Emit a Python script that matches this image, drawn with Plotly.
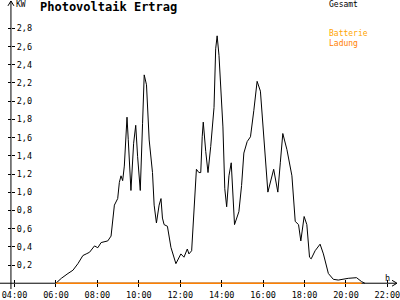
import plotly.graph_objects as go

# ---- data ----
hours = [6.0, 6.26, 6.58, 6.82, 7.06, 7.30, 7.46, 7.62, 7.86, 8.02, 8.18, 8.50, 8.66, 8.82, 8.98,
         9.06, 9.14, 9.22, 9.30, 9.43, 9.49, 9.62, 9.75, 9.85, 9.94, 10.07, 10.18, 10.26, 10.37,
         10.50, 10.66, 10.74, 10.85, 10.98, 11.07, 11.14, 11.22, 11.38, 11.55, 11.79, 12.03, 12.18,
         12.34, 12.42, 12.55, 12.66, 12.78, 12.90, 12.99, 13.06, 13.11, 13.23, 13.34, 13.47, 13.63,
         13.71, 13.78, 13.87, 14.06, 14.15, 14.24, 14.35, 14.46, 14.62, 14.83, 14.96, 15.07, 15.23,
         15.39, 15.55, 15.71, 15.87, 16.03, 16.23, 16.51, 16.71, 16.83, 16.95, 17.15, 17.39, 17.55,
         17.71, 17.82, 17.98, 18.11, 18.24, 18.32, 18.51, 18.75, 18.91, 19.15, 19.39, 19.63, 20.11,
         20.51, 20.75, 20.91]
total_kw = [0.0, 0.054, 0.107, 0.143, 0.215, 0.304, 0.322, 0.34, 0.41, 0.39, 0.447, 0.465, 0.518,
            0.858, 0.93, 1.108, 1.18, 1.127, 1.287, 1.824, 1.577, 1.019, 1.538, 1.735, 1.395, 1.019,
            1.752, 2.289, 2.18, 1.574, 1.216, 0.858, 0.662, 0.858, 0.93, 0.716, 0.644, 0.626, 0.394,
            0.215, 0.322, 0.286, 0.376, 0.322, 0.357, 0.751, 1.252, 1.216, 1.216, 1.609, 1.77, 1.449,
            1.216, 1.502, 1.931, 2.575, 2.718, 2.503, 1.717, 1.038, 0.84, 1.18, 1.323, 0.644, 0.786,
            1.073, 1.43, 1.556, 1.609, 1.896, 2.218, 2.11, 1.645, 1.001, 1.252, 1.001, 1.323, 1.645,
            1.467, 1.18, 0.679, 0.644, 0.465, 0.733, 0.644, 0.286, 0.268, 0.357, 0.429, 0.322, 0.107,
            0.043, 0.035, 0.054, 0.061, 0.018, 0.0]
battery_hours = [6.0, 20.75]
battery_kw = [0.0, 0.0]
y_ticks = [0.2, 0.4, 0.6, 0.8, 1.0, 1.2, 1.4, 1.6, 1.8, 2.0, 2.2, 2.4, 2.6, 2.8]
x_ticks = [4, 6, 8, 10, 12, 14, 16, 18, 20, 22]
x_labels = ["04:00", "06:00", "08:00", "10:00", "12:00", "14:00", "16:00", "18:00", "20:00", "22:00"]

# ---- geometry (pixels) ----
W, H = 400, 300
X0PX, PXH = 14.6, 20.82      # px of 04:00, px per hour
Y0PX, PXKW = 290.0, 93.2     # px of 0 kW, px per kW
AX_X = 11                    # y-axis pixel column
xr = [4 + (0 - X0PX) / PXH, 4 + (W - X0PX) / PXH]
yr = [(Y0PX - H) / PXKW, Y0PX / PXKW]

def px(x):
    return x / W

def py(y):
    return 1 - y / H

FONT = "DejaVu Sans Mono"
ORANGE = "#FF8000"

fig = go.Figure()
fig.add_trace(go.Scatter(x=hours, y=total_kw, mode="lines",
                         line=dict(color="black", width=1), xaxis="x", yaxis="y",
                         hoverinfo="skip"))
fig.add_trace(go.Scatter(x=battery_hours, y=battery_kw, mode="lines",
                         line=dict(color=ORANGE, width=1.5), xaxis="x2", yaxis="y2",
                         hoverinfo="skip"))

common_x = dict(range=xr, showgrid=False, zeroline=False, showline=False,
                tickvals=x_ticks, tickcolor="black", ticklen=3, tickwidth=1,
                anchor="free", position=py(Y0PX))
common_y = dict(range=yr, showgrid=False, zeroline=False, showline=False,
                tickvals=y_ticks, tickcolor="black", ticklen=3, tickwidth=1,
                anchor="free", position=px(AX_X))

fig.update_layout(
    width=W, height=H, margin=dict(l=0, r=0, t=0, b=0),
    paper_bgcolor="white", plot_bgcolor="white", showlegend=False,
    separators=",.",
    xaxis=dict(**common_x, ticks="outside", ticktext=x_labels,
               tickfont=dict(family=FONT, size=8.5, color="black"),
               ticklabeloverflow="allow", ticklabelstandoff=1),
    yaxis=dict(**common_y, side="right", ticks="outside", tickformat=".1f",
               tickfont=dict(family=FONT, size=8.5, color="black"), ticklabelstandoff=0),
    xaxis2=dict(**common_x, overlaying="x", ticks="inside", showticklabels=False),
    yaxis2=dict(**common_y, overlaying="y", side="left", ticks="outside", showticklabels=False),
)

line = dict(color="black", width=1)
shapes = [
    dict(type="line", xref="paper", yref="paper", x0=px(0), x1=px(398), y0=py(290), y1=py(290),
         line=line, layer="below"),
    dict(type="line", xref="paper", yref="paper", x0=px(AX_X), x1=px(AX_X), y0=py(1), y1=py(296),
         line=line, layer="below"),
    dict(type="path", xref="paper", yref="paper",
         path=f"M {px(8)},{py(6)} L {px(AX_X)},{py(1)} L {px(14)},{py(6)}", line=line),
    dict(type="path", xref="paper", yref="paper",
         path=f"M {px(394)},{py(287)} L {px(399)},{py(290)} L {px(394)},{py(293)}", line=line),
]
fig.update_layout(shapes=shapes)

def note(text, x, y, size=8.5, color="black", bold=False):
    fig.add_annotation(text=f"<b>{text}</b>" if bold else text, xref="paper", yref="paper",
                       x=px(x), y=py(y), xanchor="left", yanchor="middle", showarrow=False,
                       align="left", font=dict(family=FONT, size=size, color=color))

note("Photovoltaik Ertrag", 38, 7.5, size=12, bold=True)
note("KW", 14, 5, size=8)
note("h", 385, 285, size=8.5)
note("Gesamt", 329, 4.5, size=8)
note("<span style='color:#FFA500'>Batterie</span><br><span style='color:#FF8000'>Ladung</span>",
     329, 39.5, size=8)

fig.write_html("out.html")
